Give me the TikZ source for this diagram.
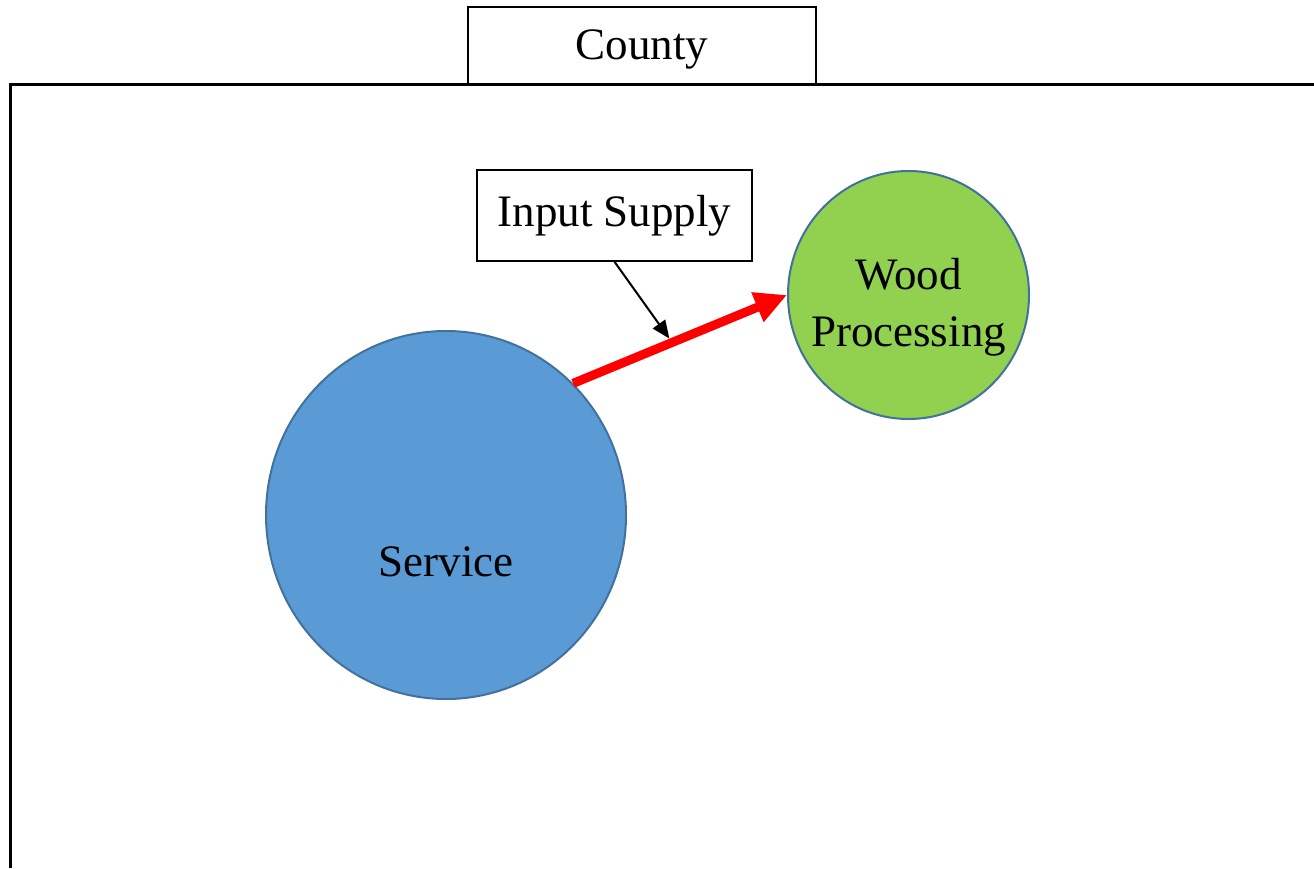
\documentclass[tikz,border=0pt]{standalone}
\usepackage{fontspec}
\setmainfont{Liberation Serif}
\usepackage{xcolor}
\usepackage{tikz}
\usetikzlibrary{calc}
\usetikzlibrary{shapes.geometric,arrows.meta}
\definecolor{servblue}{HTML}{5B9BD5}
\definecolor{woodgreen}{HTML}{92D050}
\definecolor{edgeblue}{HTML}{41719C}
\tikzset{
  bigtext/.style={font=\fontsize{45}{57}\selectfont},
  labelbox/.style={draw, line width=1.5pt, inner sep=0pt, bigtext},
  sector/.style={ellipse, draw=edgeblue, line width=2pt, inner sep=0pt}
}
\begin{document}
\begin{tikzpicture}[x=1pt, y=-1pt]
        \useasboundingbox (0,0) rectangle (1314,868);
        %BINGKAI LUAR
       \draw[line width=3pt] (10,868) -- (10,84) -- (1314,84);
        %KOTAK COUNTY
       \node[labelbox, minimum width=348pt, minimum height=77pt, text height=38pt, text depth=10pt] (county) at (642,45.5) {County};
        %LINGKARAN
       \node[sector, fill=servblue, minimum width=360pt, minimum height=368pt,
             label={[bigtext, yshift=-47pt]center:Service}] (svc) at (446,515) {};
       \node[sector, fill=woodgreen, minimum width=241pt, minimum height=248pt,
             label={[bigtext, align=center, yshift=-12pt]center:Wood\\Processing}] (wood) at (908.5,295) {};
        %KOTAK INPUT
       \node[labelbox, minimum width=275pt, minimum height=91pt] (inp) at (614.5,215.5) {Input Supply};
        %PANAH MERAH
       \draw[red, line width=9pt, -{Triangle[length=32pt, width=30pt]}] (svc.46) -- (wood.west) coordinate[pos=0.45] (hit);
        %PANAH HITAM
       \draw[line width=2pt, -{Triangle[length=18pt, width=15pt]}] (inp.south) -- ($(hit)+(0,-5)$);
    \end{tikzpicture}
\end{document}
